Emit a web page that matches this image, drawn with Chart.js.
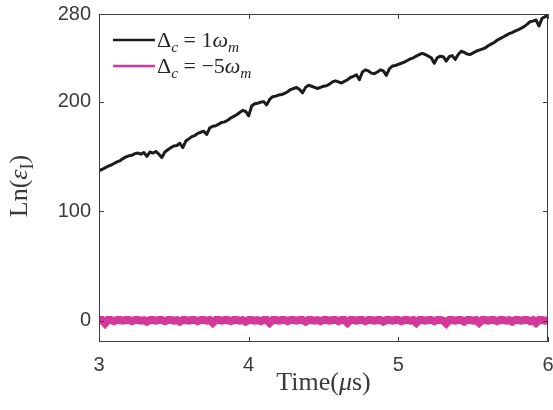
<!DOCTYPE html>
<html>
<head>
<meta charset="utf-8">
<script src="https://cdn.jsdelivr.net/npm/chart.js@4"></script>
<style>
  html, body { margin: 0; padding: 0; background: #fff; }
  #wrap { width: 553px; height: 410px; }
</style>
</head>
<body>
<div id="wrap"><canvas id="myChart" width="553" height="410"></canvas></div>
<script>
// time axis: 3 to 6 us, one sample every 0.02 us
const timeStart = 3;
const timeStep = 0.02;
const xTicks = [3, 4, 5, 6];
const yTicks = [0, 100, 200, 280];

// Delta_c = 1 omega_m
const lnEpsPos = [
  137, 138, 139.5, 141, 142, 143.5, 145, 146, 148, 149.5,
  150.5, 151, 152.5, 153, 152, 153.5, 150, 154, 153, 154.5,
  152, 149, 154, 156, 158, 159.5, 160, 162, 158, 164,
  166, 168, 169, 171, 172, 173, 170, 176, 177.5, 178,
  179.5, 181, 181.5, 183, 185, 186.5, 188, 190, 192, 191,
  187, 196, 198, 198.5, 199.5, 200, 197, 202, 204.5, 205,
  206, 206.5, 207.5, 209, 211, 212, 213, 211, 208, 213,
  215, 214, 213, 212, 213, 214, 214.5, 216, 218, 219,
  218, 217, 218.5, 220, 222, 223, 224.5, 220, 227, 229,
  228, 226, 225.5, 227, 229, 228, 224, 230, 232.5, 233,
  234, 235, 236, 237.5, 239, 240, 241.5, 243, 244, 243,
  241.5, 240, 235, 240, 241.5, 241, 237, 241, 242, 238.5,
  243, 246, 245, 243.5, 243, 244.5, 246, 247, 248, 249,
  251, 252.5, 254, 256, 257.5, 259, 260.5, 262, 263, 264.5,
  265.5, 267, 268.5, 270.5, 273, 273.5, 274.5, 269, 276, 277.5,
  278.5
];

// Delta_c = -5 omega_m
const lnEpsNeg = [
  0.5, 0.5, -2.5, 0.5, 0.5, -0.5, 0.5, 0.5, 0, 0.5,
  0.5, -0.5, 0.5, 0.5, 0, 0.5, -1, 0.5, 0.5, 0,
  0.5, 0.5, -0.5, 0.5, 0.5, 0, 0.5, -1, 0.5, 0.5,
  0, 0.5, 0.5, -0.5, 0.5, 0.5, 0, 0.5, -2, 0.5,
  0.5, 0, 0.5, 0.5, -0.5, 0.5, 0.5, 0, 0.5, -1,
  0.5, 0.5, 0, 0.5, -0.5, 0.5, 0.5, -2, 0.5, 0.5,
  0, 0.5, 0.5, -0.5, 0.5, 0.5, 0, 0.5, 0.5, -1,
  0.5, 0.5, 0, 0.5, -0.5, 0.5, 0.5, 0, 0.5, 0.5,
  -0.5, 0.5, 0.5, -2, 0.5, 0.5, 0, 0.5, 0.5, -0.5,
  0.5, 0.5, 0, 0.5, 0.5, -1, 0.5, 0.5, 0, 0.5,
  0.5, -0.5, 0.5, 0.5, 0, 0.5, -2, 0.5, 0.5, 0,
  0.5, 0.5, -0.5, 0.5, 0.5, 0, -2.5, 0.5, 0.5, 0,
  0.5, 0.5, -1, 0.5, 0.5, 0, 0.5, -2, 0.5, 0.5,
  0, 0.5, 0.5, -0.5, 0.5, 0.5, 0, 0.5, -1, 0.5,
  0.5, 0, 0.5, 0.5, -0.5, 0.5, -2, 0.5, 0.5, 0,
  0.5
];

const black = "#1c1c1c";
const pink = "#d4389b";
const axisColor = "#3f3f3f";
const serif = "'Liberation Serif', 'DejaVu Serif', serif";

const toPoints = (arr) =>
  arr.map((v, i) => ({ x: +(timeStart + i * timeStep).toFixed(2), y: v }));

// draws a run of text pieces (italic / subscript) starting at x
const drawRich = (ctx, parts, x, y, size) => {
  parts.forEach((p) => {
    const s = p.sub ? size * 0.7 : size;
    ctx.font = (p.it ? "italic " : "") + s + "px " + serif;
    ctx.fillText(p.t, x, p.sub ? y + size * 0.22 : y);
    x += ctx.measureText(p.t).width;
  });
  return x;
};

const richWidth = (ctx, parts, size) => {
  let w = 0;
  parts.forEach((p) => {
    const s = p.sub ? size * 0.7 : size;
    ctx.font = (p.it ? "italic " : "") + s + "px " + serif;
    w += ctx.measureText(p.t).width;
  });
  return w;
};

const legendItems = [
  { color: black, parts: [{ t: "\u0394" }, { t: "c", it: true, sub: true }, { t: " = 1" }, { t: "\u03c9", it: true }, { t: "m", it: true, sub: true }] },
  { color: pink, parts: [{ t: "\u0394" }, { t: "c", it: true, sub: true }, { t: " = \u22125" }, { t: "\u03c9", it: true }, { t: "m", it: true, sub: true }] },
];

const matlabAxes = {
  id: "matlabAxes",
  afterDraw(chart) {
    const { ctx, chartArea: a, scales } = chart;
    ctx.save();
    ctx.strokeStyle = axisColor;
    ctx.lineWidth = 1;
    ctx.strokeRect(a.left + 0.5, a.top + 0.5, a.right - a.left - 1, a.bottom - a.top - 1);
    // inside ticks on all four sides
    ctx.beginPath();
    xTicks.forEach((v) => {
      const px = Math.round(scales.x.getPixelForValue(v)) + 0.5;
      ctx.moveTo(px, a.bottom); ctx.lineTo(px, a.bottom - 5);
      ctx.moveTo(px, a.top); ctx.lineTo(px, a.top + 5);
    });
    yTicks.forEach((v) => {
      const py = Math.round(scales.y.getPixelForValue(v)) + 0.5;
      ctx.moveTo(a.left, py); ctx.lineTo(a.left + 5, py);
      ctx.moveTo(a.right, py); ctx.lineTo(a.right - 5, py);
    });
    ctx.stroke();

    // legend
    ctx.fillStyle = "#262626";
    ctx.textBaseline = "alphabetic";
    legendItems.forEach((item, i) => {
      const y = 40 + i * 26;
      ctx.strokeStyle = item.color;
      ctx.lineWidth = 2.5;
      ctx.beginPath();
      ctx.moveTo(113, y); ctx.lineTo(155, y);
      ctx.stroke();
      drawRich(ctx, item.parts, 157, y + 7, 22);
    });

    // x title
    ctx.fillStyle = "#3a3a3a";
    const xParts = [{ t: "Time(" }, { t: "\u03bc", it: true }, { t: "s)" }];
    const xw = richWidth(ctx, xParts, 26);
    drawRich(ctx, xParts, (a.left + a.right) / 2 - xw / 2, 390, 26);

    // y title
    const yParts = [{ t: "Ln(" }, { t: "\u03b5", it: true }, { t: "I", sub: true }, { t: ")" }];
    const yw = richWidth(ctx, yParts, 26);
    ctx.translate(27, 186);
    ctx.rotate(-Math.PI / 2);
    drawRich(ctx, yParts, -yw / 2, 0, 26);
    ctx.restore();
  },
};

const data = {
  datasets: [
    {
      label: "Delta_c = 1 omega_m",
      data: toPoints(lnEpsPos),
      borderColor: black,
      borderWidth: 3,
      pointRadius: 0,
      tension: 0,
      borderJoinStyle: "round",
    },
    {
      label: "Delta_c = -5 omega_m",
      data: toPoints(lnEpsNeg),
      borderColor: pink,
      borderWidth: 8,
      pointRadius: 0,
      tension: 0,
      borderJoinStyle: "miter",
    },
  ],
};

const config = {
  type: "line",
  data,
  plugins: [matlabAxes],
  options: {
    responsive: false,
    animation: false,
    layout: { padding: { top: 14, right: 5, left: 0, bottom: 0 } },
    plugins: { legend: { display: false }, tooltip: { enabled: false } },
    scales: {
      x: {
        type: "linear",
        min: 3,
        max: 6,
        afterBuildTicks: (s) => { s.ticks = xTicks.map((v) => ({ value: v })); },
        afterFit: (s) => { s.height = 68; s.paddingLeft = 0; s.paddingRight = 0; },
        grid: { display: false, drawTicks: false },
        border: { display: false },
        ticks: {
          color: "#3a3a3a",
          font: { family: "'Liberation Sans', Arial, sans-serif", size: 20 },
          padding: 11,
          maxRotation: 0,
        },
      },
      y: {
        min: -19.5,
        max: 280,
        afterBuildTicks: (s) => { s.ticks = yTicks.map((v) => ({ value: v })); },
        afterFit: (s) => { s.width = 99; s.paddingTop = 0; s.paddingBottom = 0; },
        grid: { display: false, drawTicks: false },
        border: { display: false },
        ticks: {
          color: "#3a3a3a",
          font: { family: "'Liberation Sans', Arial, sans-serif", size: 20 },
          padding: 8,
        },
      },
    },
  },
};

const myChart = new Chart(document.getElementById("myChart"), config);
</script>
</body>
</html>
